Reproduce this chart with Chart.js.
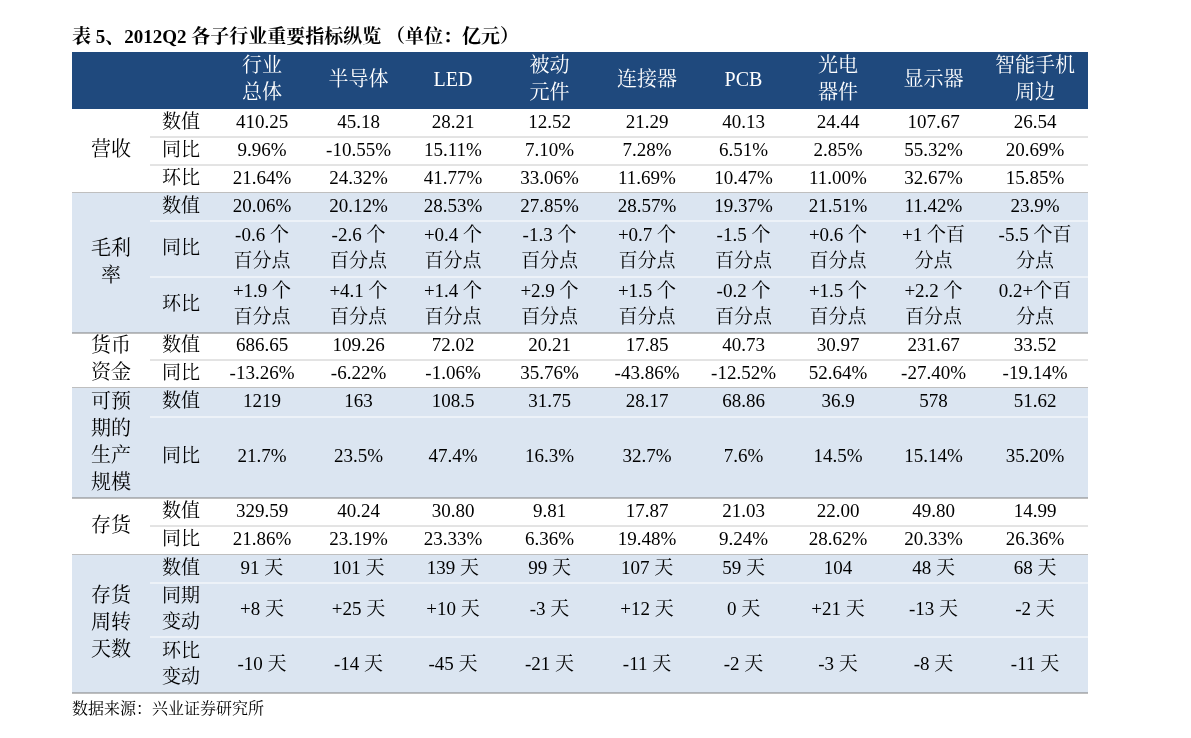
<!DOCTYPE html>
<html><head><meta charset="utf-8">
<script src="https://cdn.jsdelivr.net/npm/chart.js@4"></script>
<style>html,body{margin:0;padding:0;background:#fff}canvas{display:block}</style>
</head><body>
<canvas id="c" width="1191" height="738"></canvas>
<script>
const title = "表 5、2012Q2 各子行业重要指标纵览 （单位：亿元）";
const source = "数据来源：兴业证券研究所";
const categories = ["行业\n总体","半导体","LED","被动\n元件","连接器","PCB","光电\n器件","显示器","智能手机\n周边"];
const groups = ["营收","毛利\n率","货币\n资金","可预\n期的\n生产\n规模","存货","存货\n周转\n天数"];
const subLabels = [["数值","同比","环比"],["数值","同比","环比"],["数值","同比"],["数值","同比"],["数值","同比"],["数值","同期\n变动","环比\n变动"]];
const revenue = [
 ["410.25","45.18","28.21","12.52","21.29","40.13","24.44","107.67","26.54"],
 ["9.96%","-10.55%","15.11%","7.10%","7.28%","6.51%","2.85%","55.32%","20.69%"],
 ["21.64%","24.32%","41.77%","33.06%","11.69%","10.47%","11.00%","32.67%","15.85%"]];
const margin = [
 ["20.06%","20.12%","28.53%","27.85%","28.57%","19.37%","21.51%","11.42%","23.9%"],
 ["-0.6 个\n百分点","-2.6 个\n百分点","+0.4 个\n百分点","-1.3 个\n百分点","+0.7 个\n百分点","-1.5 个\n百分点","+0.6 个\n百分点","+1 个百\n分点","-5.5 个百\n分点"],
 ["+1.9 个\n百分点","+4.1 个\n百分点","+1.4 个\n百分点","+2.9 个\n百分点","+1.5 个\n百分点","-0.2 个\n百分点","+1.5 个\n百分点","+2.2 个\n百分点","0.2+个百\n分点"]];
const cash = [
 ["686.65","109.26","72.02","20.21","17.85","40.73","30.97","231.67","33.52"],
 ["-13.26%","-6.22%","-1.06%","35.76%","-43.86%","-12.52%","52.64%","-27.40%","-19.14%"]];
const capacity = [
 ["1219","163","108.5","31.75","28.17","68.86","36.9","578","51.62"],
 ["21.7%","23.5%","47.4%","16.3%","32.7%","7.6%","14.5%","15.14%","35.20%"]];
const inventory = [
 ["329.59","40.24","30.80","9.81","17.87","21.03","22.00","49.80","14.99"],
 ["21.86%","23.19%","23.33%","6.36%","19.48%","9.24%","28.62%","20.33%","26.36%"]];
const turnover = [
 ["91 天","101 天","139 天","99 天","107 天","59 天","104","48 天","68 天"],
 ["+8 天","+25 天","+10 天","-3 天","+12 天","0 天","+21 天","-13 天","-2 天"],
 ["-10 天","-14 天","-45 天","-21 天","-11 天","-2 天","-3 天","-8 天","-11 天"]];
const groupData = [revenue, margin, cash, capacity, inventory, turnover];

// layout (scale units)
const colEdges = [72,150,212,312,405,501,598,696,791,885,982,1088];
const headerTop = 52, headerBottom = 109;
const rowEdges = [[109,137,165,193],[193,221,277,333],[333,360,388],[388,417,498],[498,526,555],[555,583,637,693]];
const shaded = [false,true,false,true,false,true];

const FONT = '"Liberation Serif","Noto Serif CJK SC","Noto Sans CJK SC",serif';
const tablePlugin = {
  id:'table',
  afterDraw(chart){
    const ctx = chart.ctx, X = v=>chart.scales.x.getPixelForValue(v), Y = v=>chart.scales.y.getPixelForValue(v);
    const L = X(colEdges[0]), R = X(colEdges[colEdges.length-1]);
    ctx.save();
    const text = (s,x,y,sz,color,bold,align)=>{
      const lines = s.split("\n"), lh = sz*1.35;
      ctx.font = (bold?'bold ':'')+sz+'px '+FONT; ctx.fillStyle=color; ctx.textAlign=align||'center'; ctx.textBaseline='middle';
      lines.forEach((l,i)=>ctx.fillText(l,x,y+(i-(lines.length-1)/2)*lh));
    };
    text(title, L, Y(38), 19, '#000', true, 'left');
    // header
    ctx.fillStyle='#1f497d'; ctx.fillRect(L,Y(headerTop),R-L,Y(headerBottom)-Y(headerTop));
    categories.forEach((c,i)=>text(c,(X(colEdges[i+2])+X(colEdges[i+3]))/2,(Y(headerTop)+Y(headerBottom))/2,20,'#fff'));
    groups.forEach((g,gi)=>{
      const re = rowEdges[gi], top=Y(re[0]), bot=Y(re[re.length-1]);
      if(shaded[gi]){ctx.fillStyle='#dbe5f1'; ctx.fillRect(L,top,R-L,bot-top);}
      text(g,(X(colEdges[0])+X(colEdges[1]))/2,(top+bot)/2,20,'#000');
      subLabels[gi].forEach((s,ri)=>{
        const a=Y(re[ri]), b=Y(re[ri+1]), cy=(a+b)/2;
        text(s,(X(colEdges[1])+X(colEdges[2]))/2,cy,19,'#000');
        groupData[gi][ri].forEach((v,ci)=>text(v,(X(colEdges[ci+2])+X(colEdges[ci+3]))/2,cy,19,'#000'));
        if(ri>0){ctx.strokeStyle=shaded[gi]?'#ffffff':'#c8c8c8'; ctx.lineWidth=1; ctx.beginPath(); ctx.moveTo(X(colEdges[1]),a); ctx.lineTo(R,a); ctx.stroke();}
      });
      ctx.strokeStyle='#7f7f7f'; ctx.lineWidth=1; ctx.beginPath(); ctx.moveTo(L,bot); ctx.lineTo(R,bot); ctx.stroke();
    });
    text(source, L, Y(710), 16, '#000', false, 'left');
    ctx.restore();
  }
};
new Chart(document.getElementById('c'),{
  type:'scatter',
  data:{datasets:[{data:[]}]},
  options:{responsive:false,animation:false,events:[],
    layout:{padding:0},
    plugins:{legend:{display:false},tooltip:{enabled:false}},
    scales:{x:{type:'linear',min:0,max:1191,display:false},y:{type:'linear',min:0,max:738,reverse:true,display:false}}},
  plugins:[tablePlugin]
});
</script></body></html>
